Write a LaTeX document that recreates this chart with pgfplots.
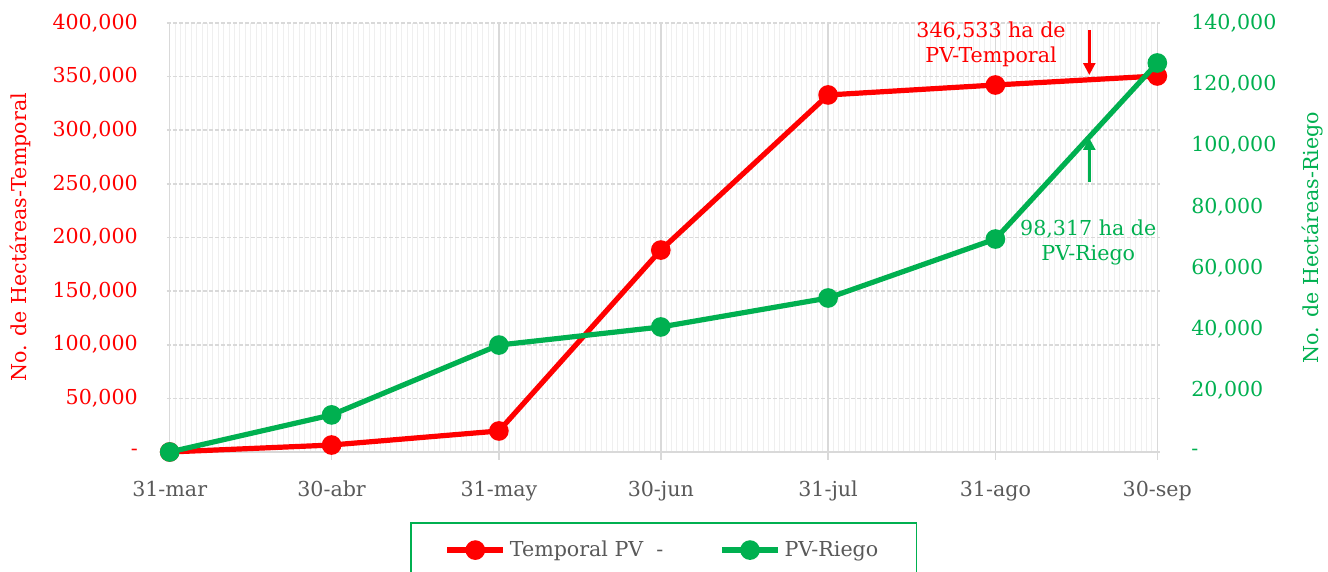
\documentclass[border=0pt]{standalone}
\usepackage{pgfplots}
\pgfplotsset{compat=1.18}
\usepackage{pgfplotstable}
\usetikzlibrary{arrows.meta}
\usepackage{fontspec}
\setmainfont{DejaVu Serif}
\definecolor{cred}{HTML}{FF0000}
\definecolor{cgreen}{HTML}{00B050}
\definecolor{tgray}{HTML}{595959}
\definecolor{gridc}{HTML}{D9D9D9}
\definecolor{minorc}{HTML}{EFEFEF}

\pgfplotstableread{
day val
0   0
30  6500
61  19600
91  188300
122 332900
153 342200
183 350600
}\temporal
\pgfplotstableread{
day val
0   0
30  12100
61  34900
91  40800
122 50250
153 69500
183 126950
}\riego

\begin{document}
\fontsize{10.3pt}{12.4pt}\selectfont
\begin{tikzpicture}
\begin{axis}[
  scale only axis, width=496.5pt, height=214.5pt,
  xmin=-0.5, xmax=183.5, ymin=0, ymax=400000,
  scaled y ticks=false,
  axis x line*=bottom, axis y line*=left,
  x axis line style={draw=gridc, line width=0.8pt, -},
  y axis line style={draw=none},
  tick align=outside, major tick length=4pt, minor tick length=0pt,
  xtick={0,30,61,91,122,153,183},
  xticklabels={31-mar,30-abr,31-may,30-jun,31-jul,31-ago,30-sep},
  minor xtick={1,...,182},
  ytick={0,50000,100000,150000,200000,250000,300000,350000,400000},
  yticklabels={{-},{50,000},{100,000},{150,000},{200,000},{250,000},{300,000},{350,000},{400,000}},
  xmajorgrids, xminorgrids, ymajorgrids,
  major x grid style={draw=gridc, line width=0.7pt},
  minor x grid style={draw=minorc, line width=0.5pt},
  major y grid style={draw=gridc, line width=0.8pt, dash pattern=on 2pt off 1pt},
  xtick style={draw=gridc, line width=0.7pt},
  ytick style={draw=none},
  xticklabel style={text=tgray},
  xticklabel shift=7pt,
  yticklabel style={text=cred},
  yticklabel shift=7pt,
  ylabel={No. de Hectáreas-Temporal},
  ylabel style={text=cred, at={(axis description cs:-0.148,0.5)}, anchor=center},
  clip=false,
]
\addplot[cred, line width=2.6pt, mark=*, mark size=3.6pt] table[x=day,y=val] {\temporal};
\draw[cred, line width=1.3pt, -{Triangle[width=6pt,length=6pt]}] (axis cs:170.4,393500) -- (axis cs:170.4,351500);
\node[cred, align=center] at (axis cs:152.2,380000) {346,533 ha de\\PV-Temporal};
\end{axis}
\begin{axis}[
  scale only axis, width=496.5pt, height=214.5pt,
  xmin=-0.5, xmax=183.5, ymin=0, ymax=140000,
  scaled y ticks=false,
  axis x line=none, axis y line*=right,
  y axis line style={draw=none},
  tick align=outside, major tick length=4pt,
  ytick={0,20000,40000,60000,80000,100000,120000,140000},
  yticklabels={{-},{20,000},{40,000},{60,000},{80,000},{100,000},{120,000},{140,000}},
  ytick style={draw=none},
  yticklabel style={text=cgreen},
  yticklabel shift=8pt,
  ylabel={No. de Hectáreas-Riego},
  ylabel style={text=cgreen, at={(axis description cs:1.154,0.5)}, anchor=center},
  clip=false,
  legend columns=2,
  legend image code/.code={\draw[mark repeat=2,mark phase=2,#1] plot coordinates {(0pt,0pt) (14pt,0pt) (28pt,0pt)};},
  legend style={at={(0.5,-0.163)}, anchor=north, draw=cgreen, line width=0.8pt, text=tgray,
    inner xsep=17pt, inner ysep=7pt,
    /tikz/every even column/.append style={column sep=26pt}},
]
\addlegendimage{cred, line width=2.6pt, mark=*, mark size=3.6pt}
\addlegendentry{Temporal PV~~-}
\addplot[cgreen, line width=2.6pt, mark=*, mark size=3.6pt] table[x=day,y=val] {\riego};
\addlegendentry{PV-Riego}
\draw[cgreen, line width=1.3pt, -{Triangle[width=6pt,length=6pt]}] (axis cs:170.4,88100) -- (axis cs:170.4,102470);
\node[cgreen, align=center] at (axis cs:170.2,68400) {98,317 ha de\\PV-Riego};
\end{axis}
\pgfresetboundingbox
\path[use as bounding box] (-83.5pt,-60pt) rectangle (580.5pt,226pt);
\end{tikzpicture}
\end{document}
